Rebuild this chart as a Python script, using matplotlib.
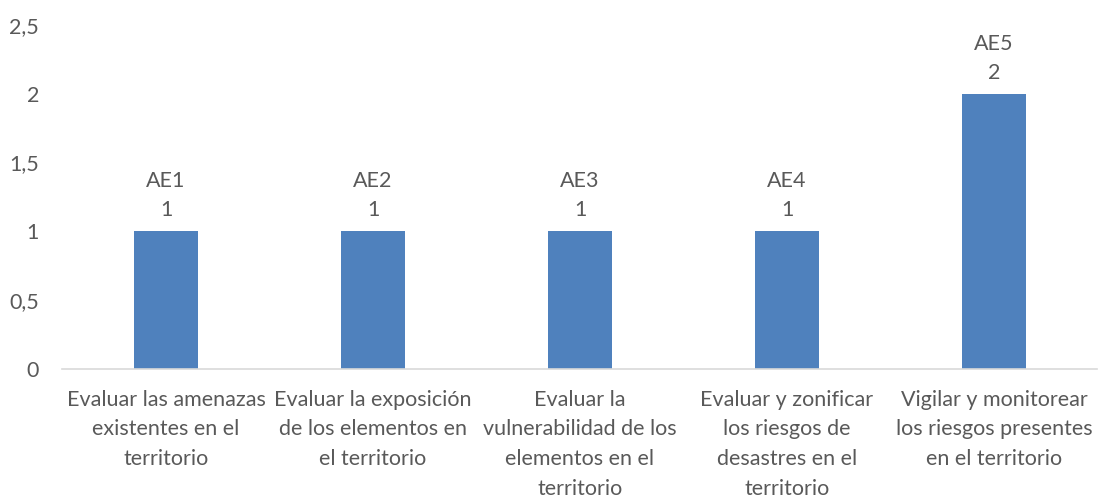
import matplotlib
matplotlib.use('Agg')
import matplotlib.pyplot as plt

categorias = [
    "Evaluar las amenazas\nexistentes en el\nterritorio",
    "Evaluar la exposición\nde los elementos en\nel territorio",
    "Evaluar la\nvulnerabilidad de los\nelementos en el\nterritorio",
    "Evaluar y zonificar\nlos riesgos de\ndesastres en el\nterritorio",
    "Vigilar y monitorear\nlos riesgos presentes\nen el territorio",
]
codigos = ["AE1", "AE2", "AE3", "AE4", "AE5"]
valores = [1, 1, 1, 1, 2]

plt.rcParams['font.family'] = ['Lato', 'DejaVu Sans']
gris = '#595959'

fig = plt.figure(figsize=(11.04, 4.98), dpi=100)
ax = fig.add_axes([0.0566, 0.259, 0.9375, 0.691])

x = range(len(valores))
bars = ax.bar(x, valores, width=0.31, color='#4f81bd')

for b, cod, v in zip(bars, codigos, valores):
    ax.annotate(f"{cod}\n{v}", (b.get_x() + b.get_width() / 2, v),
                xytext=(0, 8), textcoords='offset points',
                ha='center', va='bottom', fontsize=15.5, color=gris,
                linespacing=1.55)

ax.set_xlim(-0.5, len(valores) - 0.5)
ax.set_ylim(0, 2.5)
ax.set_yticks([0, 0.5, 1, 1.5, 2, 2.5])
ax.set_yticklabels(["0", "0,5", "1", "1,5", "2", "2,5"])
ax.set_xticks(list(x))
ax.set_xticklabels(categorias, linespacing=1.6)
ax.tick_params(axis='both', length=0, labelsize=15.5, labelcolor=gris)
ax.tick_params(axis='y', pad=17)
ax.tick_params(axis='x', pad=15)

for s in ['top', 'right', 'left']:
    ax.spines[s].set_visible(False)
ax.spines['bottom'].set_color('#d9d9d9')
ax.spines['bottom'].set_linewidth(1.2)

fig.savefig('out.png', dpi=100)
